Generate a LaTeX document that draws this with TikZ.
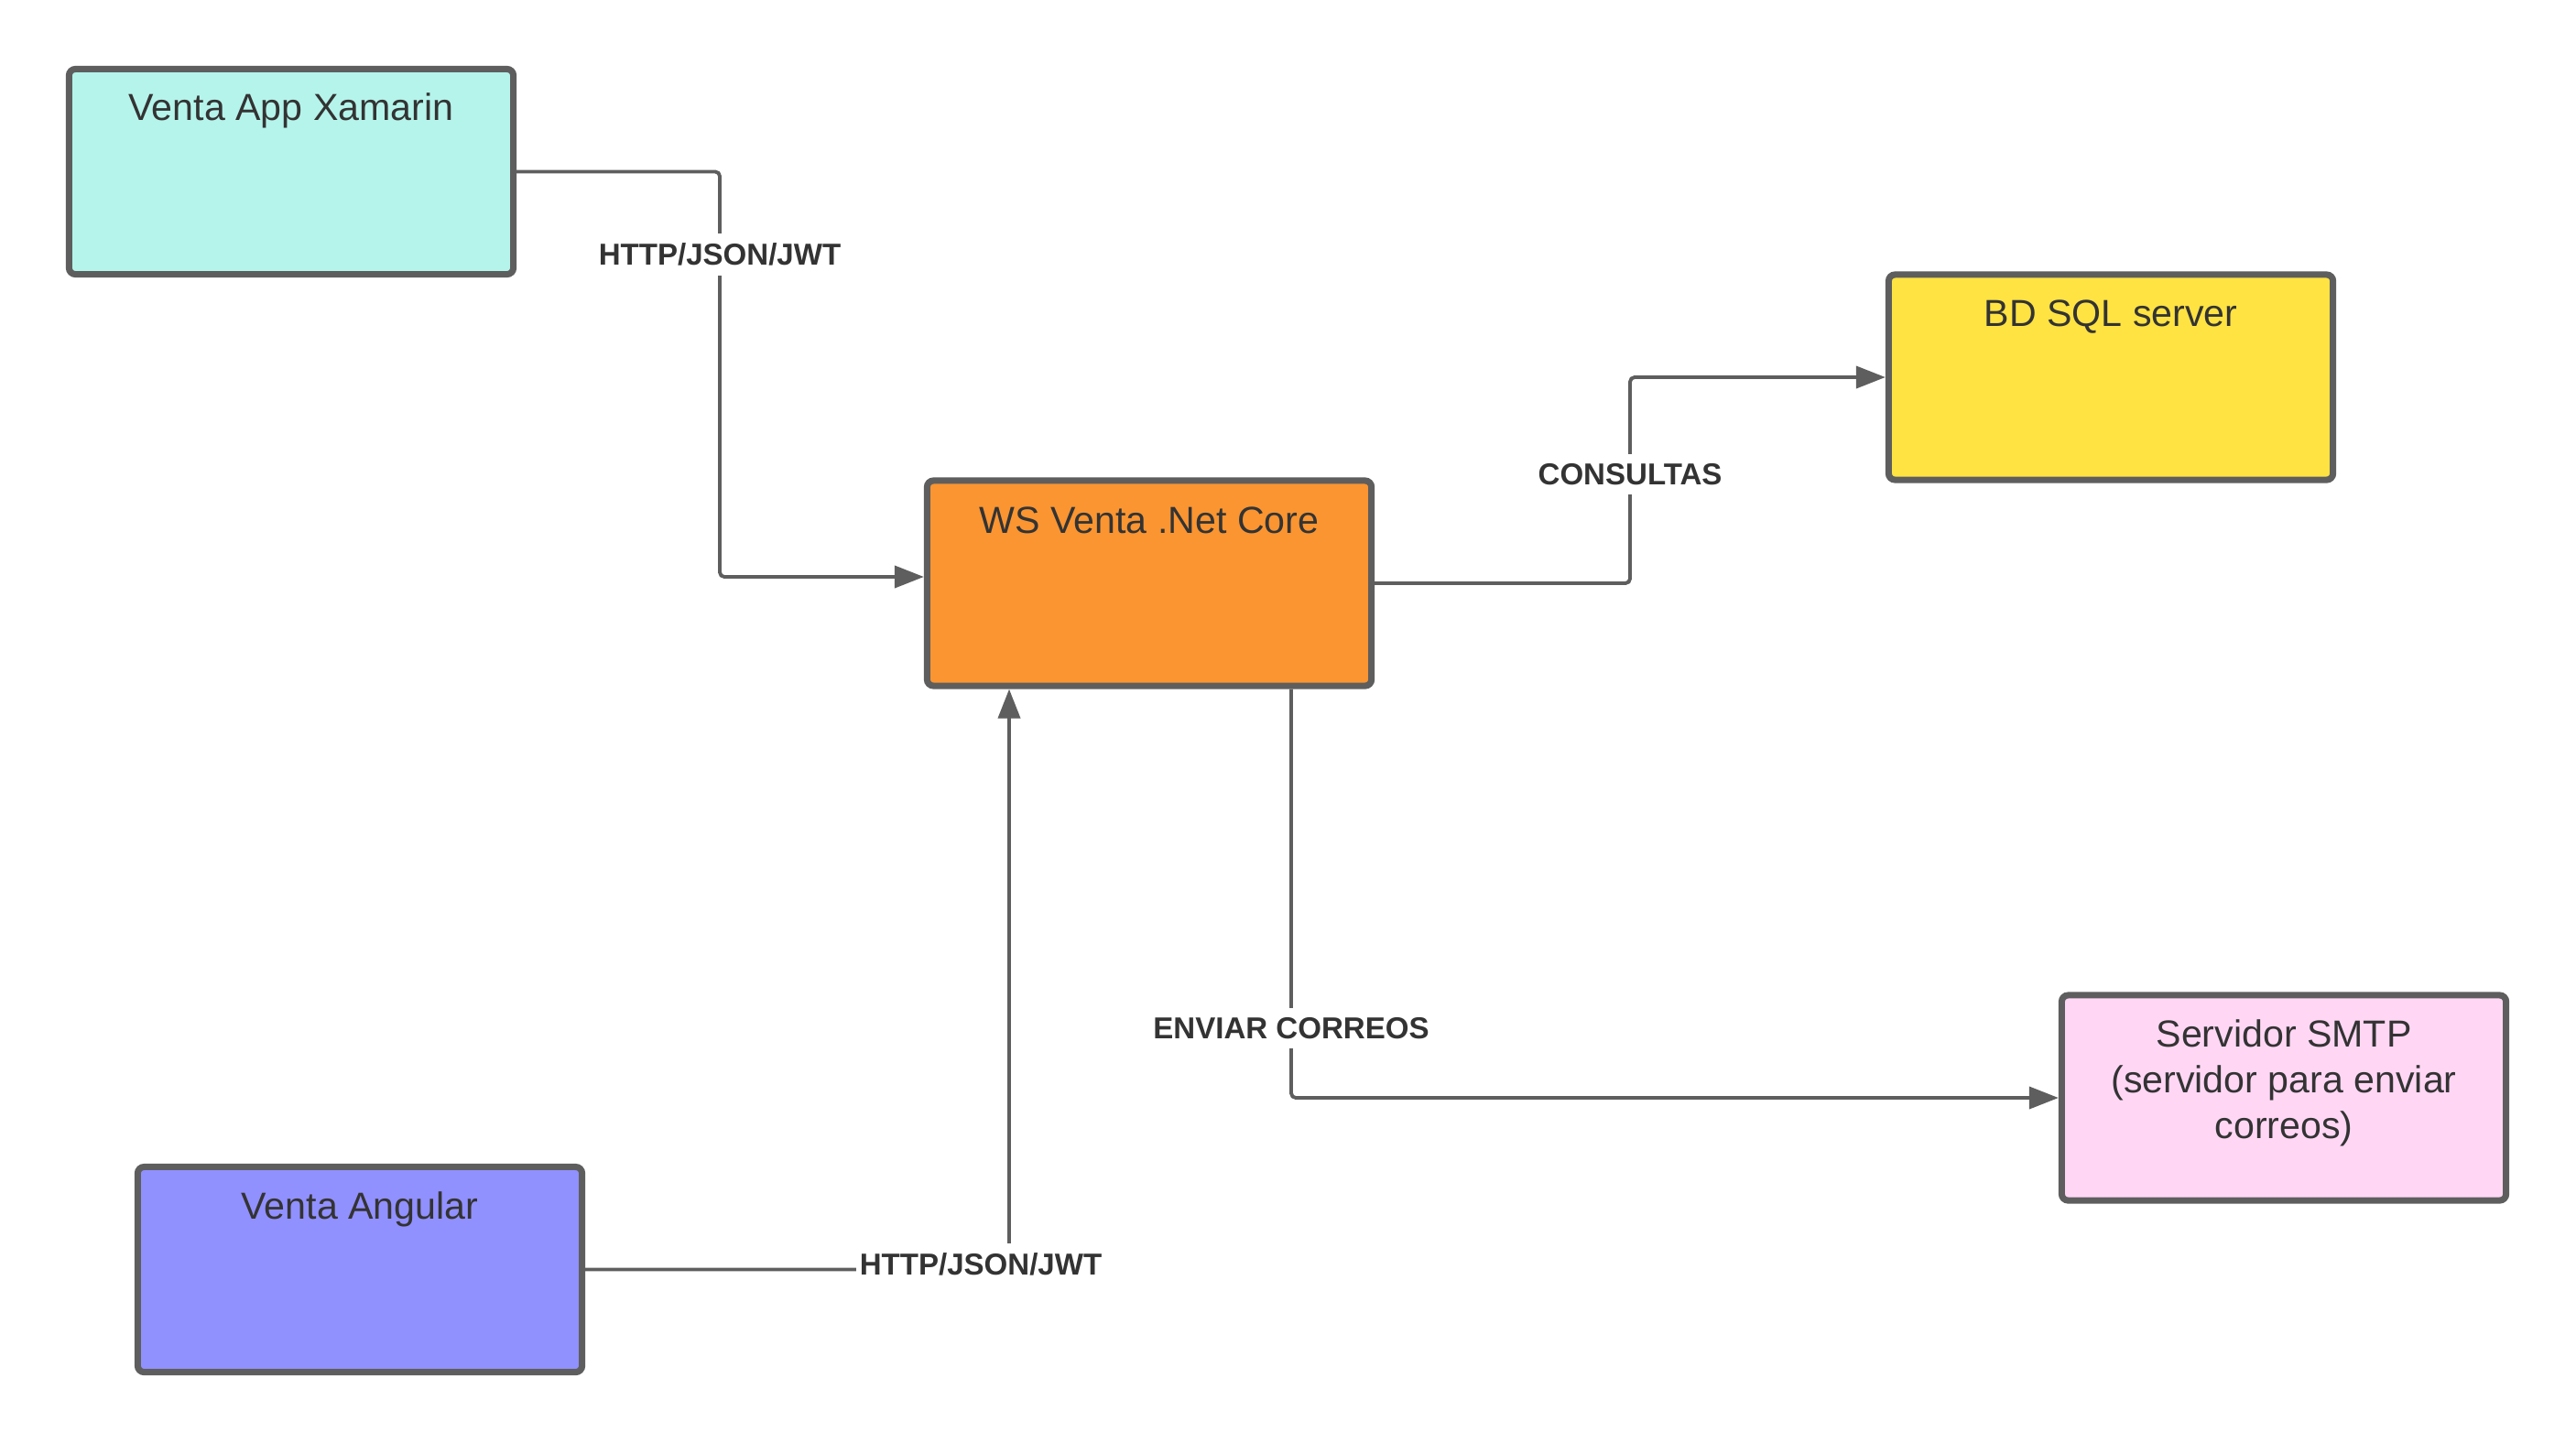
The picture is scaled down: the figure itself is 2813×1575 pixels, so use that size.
\documentclass[tikz,border=0pt]{standalone}
\usepackage{fontspec}
\setmainfont{Liberation Sans}
\usetikzlibrary{arrows.meta}
\definecolor{edgec}{HTML}{5E5E5E}
\definecolor{txtc}{HTML}{333333}
\definecolor{xamc}{HTML}{B5F4EB}
\definecolor{wsc}{HTML}{FA9531}
\definecolor{bdc}{HTML}{FFE342}
\definecolor{smtpc}{HTML}{FFD7F5}
\definecolor{angc}{HTML}{9190FF}
\begin{document}
\begin{tikzpicture}[x=0.01cm,y=-0.01cm,
  boxnode/.style={draw=edgec, line width=2pt, rounded corners=0.07cm,
    minimum width=4.85cm, minimum height=2.24cm, inner sep=0pt},
  titlenode/.style={anchor=base, text=txtc, font=\fontsize{11.7}{14.2}\selectfont, align=center, inner sep=0pt},
  conn/.style={draw=edgec, line width=1.1pt, rounded corners=0.05cm},
  arr/.style={-{Triangle[length=0.32cm,width=0.24cm]}},
  lbl/.style={fill=white, text=txtc, font=\fontsize{9.4}{11}\selectfont\bfseries, inner ysep=3pt, inner xsep=1pt}
]
\useasboundingbox (0,0) rectangle (2813,1575);

% boxes
\node[boxnode, fill=xamc] (xam) at (318,187.5) {};
\node[boxnode, fill=wsc] (ws) at (1255,637) {};
\node[boxnode, fill=bdc] (bd) at (2305,412) {};
\node[boxnode, fill=smtpc] (smtp) at (2494,1199) {};
\node[boxnode, fill=angc] (ang) at (393,1386.5) {};

% titles
\node[titlenode] (xamt) at (318,131) {Venta App Xamarin};
\node[titlenode] (wst) at (1255,582) {WS Venta .Net Core};
\node[titlenode] (bdt) at (2305,356) {BD SQL server};
\node[titlenode, anchor=north] (smtpt) at (2494,1113) {Servidor SMTP\\(servidor para enviar\\correos)};
\node[titlenode] (angt) at (393,1331) {Venta Angular};

% connectors
\coordinate (k1) at (786,187.5);
\coordinate (k2) at (786,630);
\draw[conn,arr] (xam.east) -- (k1) -- (k2) -- (ws.west |- k2);

\coordinate (k3) at (1780,637);
\coordinate (k4) at (1780,412);
\draw[conn,arr] (ws.east) -- (k3) -- (k4) -- (bd.west);

\coordinate (k5) at (1410,1199);
\draw[conn,arr] (ws.south -| k5) -- (k5) -- (smtp.west);

\coordinate (k6) at (1102,1386.5);
\draw[conn,arr] (ang.east) -- (k6) -- (ws.south -| k6);

% labels
\node[lbl] (l1) at (786,278) {HTTP/JSON/JWT};
\node[lbl] (l2) at (1780,518) {CONSULTAS};
\node[lbl] (l3) at (1410,1123) {ENVIAR CORREOS};
\node[lbl] (l4) at (1071,1381) {HTTP/JSON/JWT};
\end{tikzpicture}
\end{document}
